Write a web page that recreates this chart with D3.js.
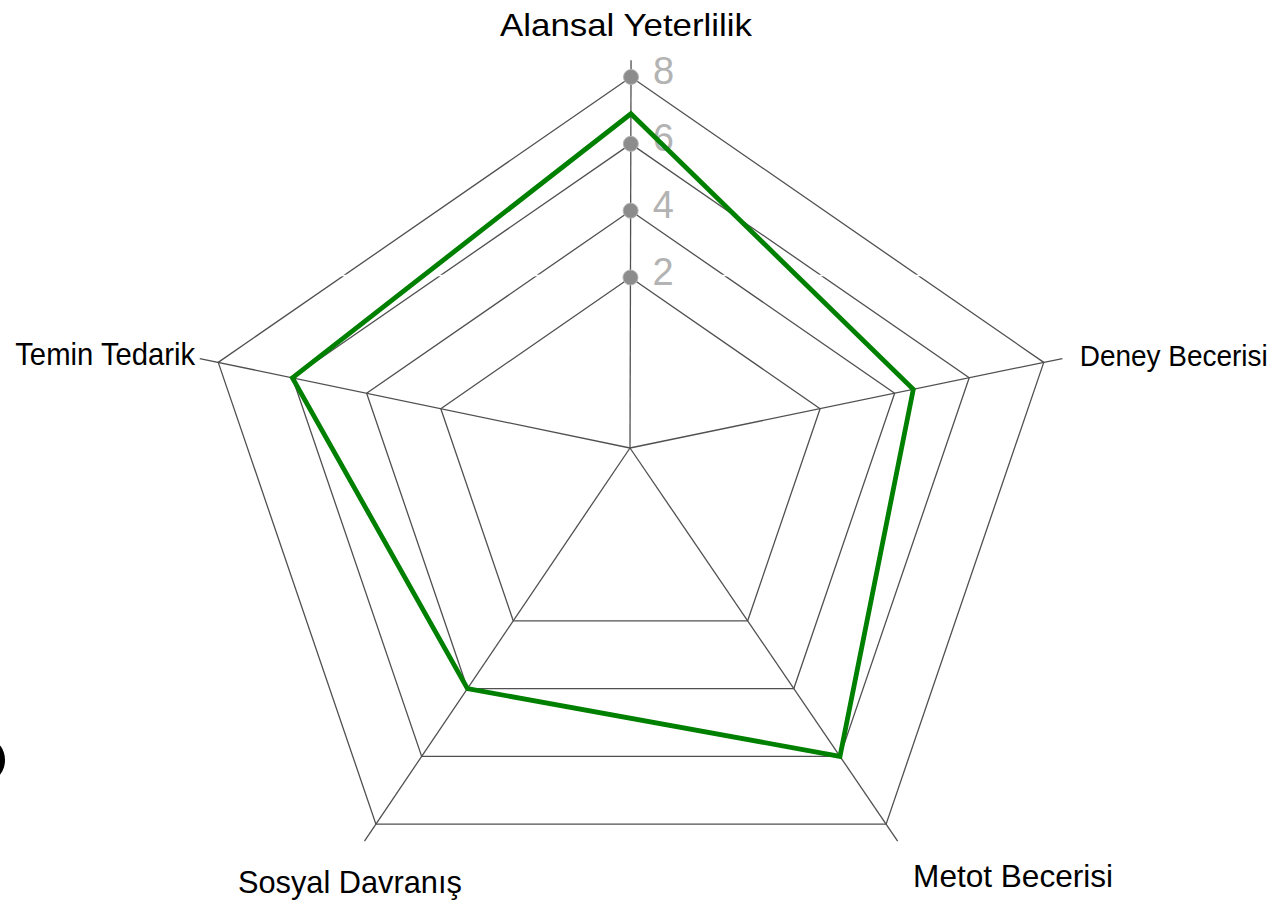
<!DOCTYPE html>
<html>
<head>
<meta charset="utf-8">
<script src="https://cdn.jsdelivr.net/npm/d3@7/dist/d3.min.js"></script>
<style>
  html, body { margin: 0; padding: 0; background: #fff; }
  svg { display: block; }
</style>
</head>
<body>
<svg id="chart" width="1280" height="904"></svg>
<script>
// Radar chart data
const categories = ["Alansal Yeterlilik", "Deney Becerisi", "Metot Becerisi", "Sosyal Davranış", "Temin Tedarik"];
const values = [6.9, 4.5, 6, 4, 6];
const tickValues = [2, 4, 6, 8];
const tickLabels = ["2", "4", "6", "8"];

// Geometry: spokes meet at the hub; the outer ring is a stretched pentagon
const W = 1280, H = 904;
const hub = { x: 630, y: 448 };
const outer = { cx: 631, cy: 490, rx: 434, ry: 413 };

const svg = d3.select("#chart");

// value -> fraction of the way from hub to outer ring
const r = d3.scaleLinear().domain([-3.1, 8]).range([0, 1]);
const angle = d3.scaleLinear().domain([0, categories.length]).range([0, 2 * Math.PI]);

function vertex(i) {
  const a = angle(i);
  return { x: outer.cx + outer.rx * Math.sin(a), y: outer.cy - outer.ry * Math.cos(a) };
}
function pointAt(i, t) {
  const v = vertex(i);
  return [hub.x + t * (v.x - hub.x), hub.y + t * (v.y - hub.y)];
}
function point(i, value) { return pointAt(i, r(value)); }

const line = d3.line().curve(d3.curveLinearClosed);
const gridColor = "#505050";

// rings
svg.append("g").selectAll("path")
  .data(tickValues)
  .join("path")
  .attr("d", v => line(categories.map((c, i) => point(i, v))))
  .attr("fill", "none")
  .attr("stroke", gridColor)
  .attr("stroke-width", 1.3);

// spokes
svg.append("g").selectAll("line")
  .data(categories)
  .join("line")
  .attr("x1", hub.x).attr("y1", hub.y)
  .attr("x2", (c, i) => pointAt(i, 1.045)[0])
  .attr("y2", (c, i) => pointAt(i, 1.045)[1])
  .attr("stroke", gridColor)
  .attr("stroke-width", 1.3);

// scan gap across the upper part
svg.append("line")
  .attr("x1", 0).attr("x2", W).attr("y1", 275.5).attr("y2", 275.5)
  .attr("stroke", "#fff").attr("stroke-width", 1.5);

// tick markers on the first axis
const ticks = svg.append("g");
ticks.selectAll("circle")
  .data(tickValues)
  .join("circle")
  .attr("cx", v => point(0, v)[0])
  .attr("cy", v => point(0, v)[1])
  .attr("r", 7.5)
  .attr("fill", "#8c8c8c")
  .attr("stroke", "#b5b5b5")
  .attr("stroke-width", 1);
ticks.selectAll("text")
  .data(tickValues)
  .join("text")
  .attr("x", v => point(0, v)[0] + 22)
  .attr("y", v => point(0, v)[1] + 7)
  .attr("font-family", "'Liberation Sans', Arial, sans-serif")
  .attr("font-size", 38)
  .attr("fill", "#b3b3b3")
  .text((v, i) => tickLabels[i]);

// data polygon
svg.append("path")
  .attr("d", line(values.map((v, i) => point(i, v))))
  .attr("fill", "none")
  .attr("stroke", "#008000")
  .attr("stroke-width", 4.8)
  .attr("stroke-linejoin", "miter");

// axis labels, placed relative to the outer vertex of each spoke
const labelPlacement = [
  { anchor: "middle", dx: -5, dy: -41, len: 252, size: 32 },
  { anchor: "end", dx: 224, dy: 4, len: 188, size: 29 },
  { anchor: "start", dx: 27, dy: 63, len: 200, size: 32 },
  { anchor: "middle", dx: -26, dy: 69, len: 224, size: 32 },
  { anchor: "end", dx: -23, dy: 3, len: 180, size: 32 }
];
svg.append("g").selectAll("text")
  .data(categories)
  .join("text")
  .attr("x", (c, i) => vertex(i).x + labelPlacement[i].dx)
  .attr("y", (c, i) => vertex(i).y + labelPlacement[i].dy)
  .attr("text-anchor", (c, i) => labelPlacement[i].anchor)
  .attr("textLength", (c, i) => labelPlacement[i].len)
  .attr("lengthAdjust", "spacingAndGlyphs")
  .attr("font-family", "'Liberation Sans Narrow', 'Arial Narrow', 'Liberation Sans', sans-serif")
  .attr("font-size", (c, i) => labelPlacement[i].size)
  .attr("fill", "#000")
  .text(c => c);

// ink mark at the left edge
svg.append("ellipse")
  .attr("cx", -9).attr("cy", 760).attr("rx", 14).attr("ry", 19)
  .attr("fill", "#000");
</script>
</body>
</html>
